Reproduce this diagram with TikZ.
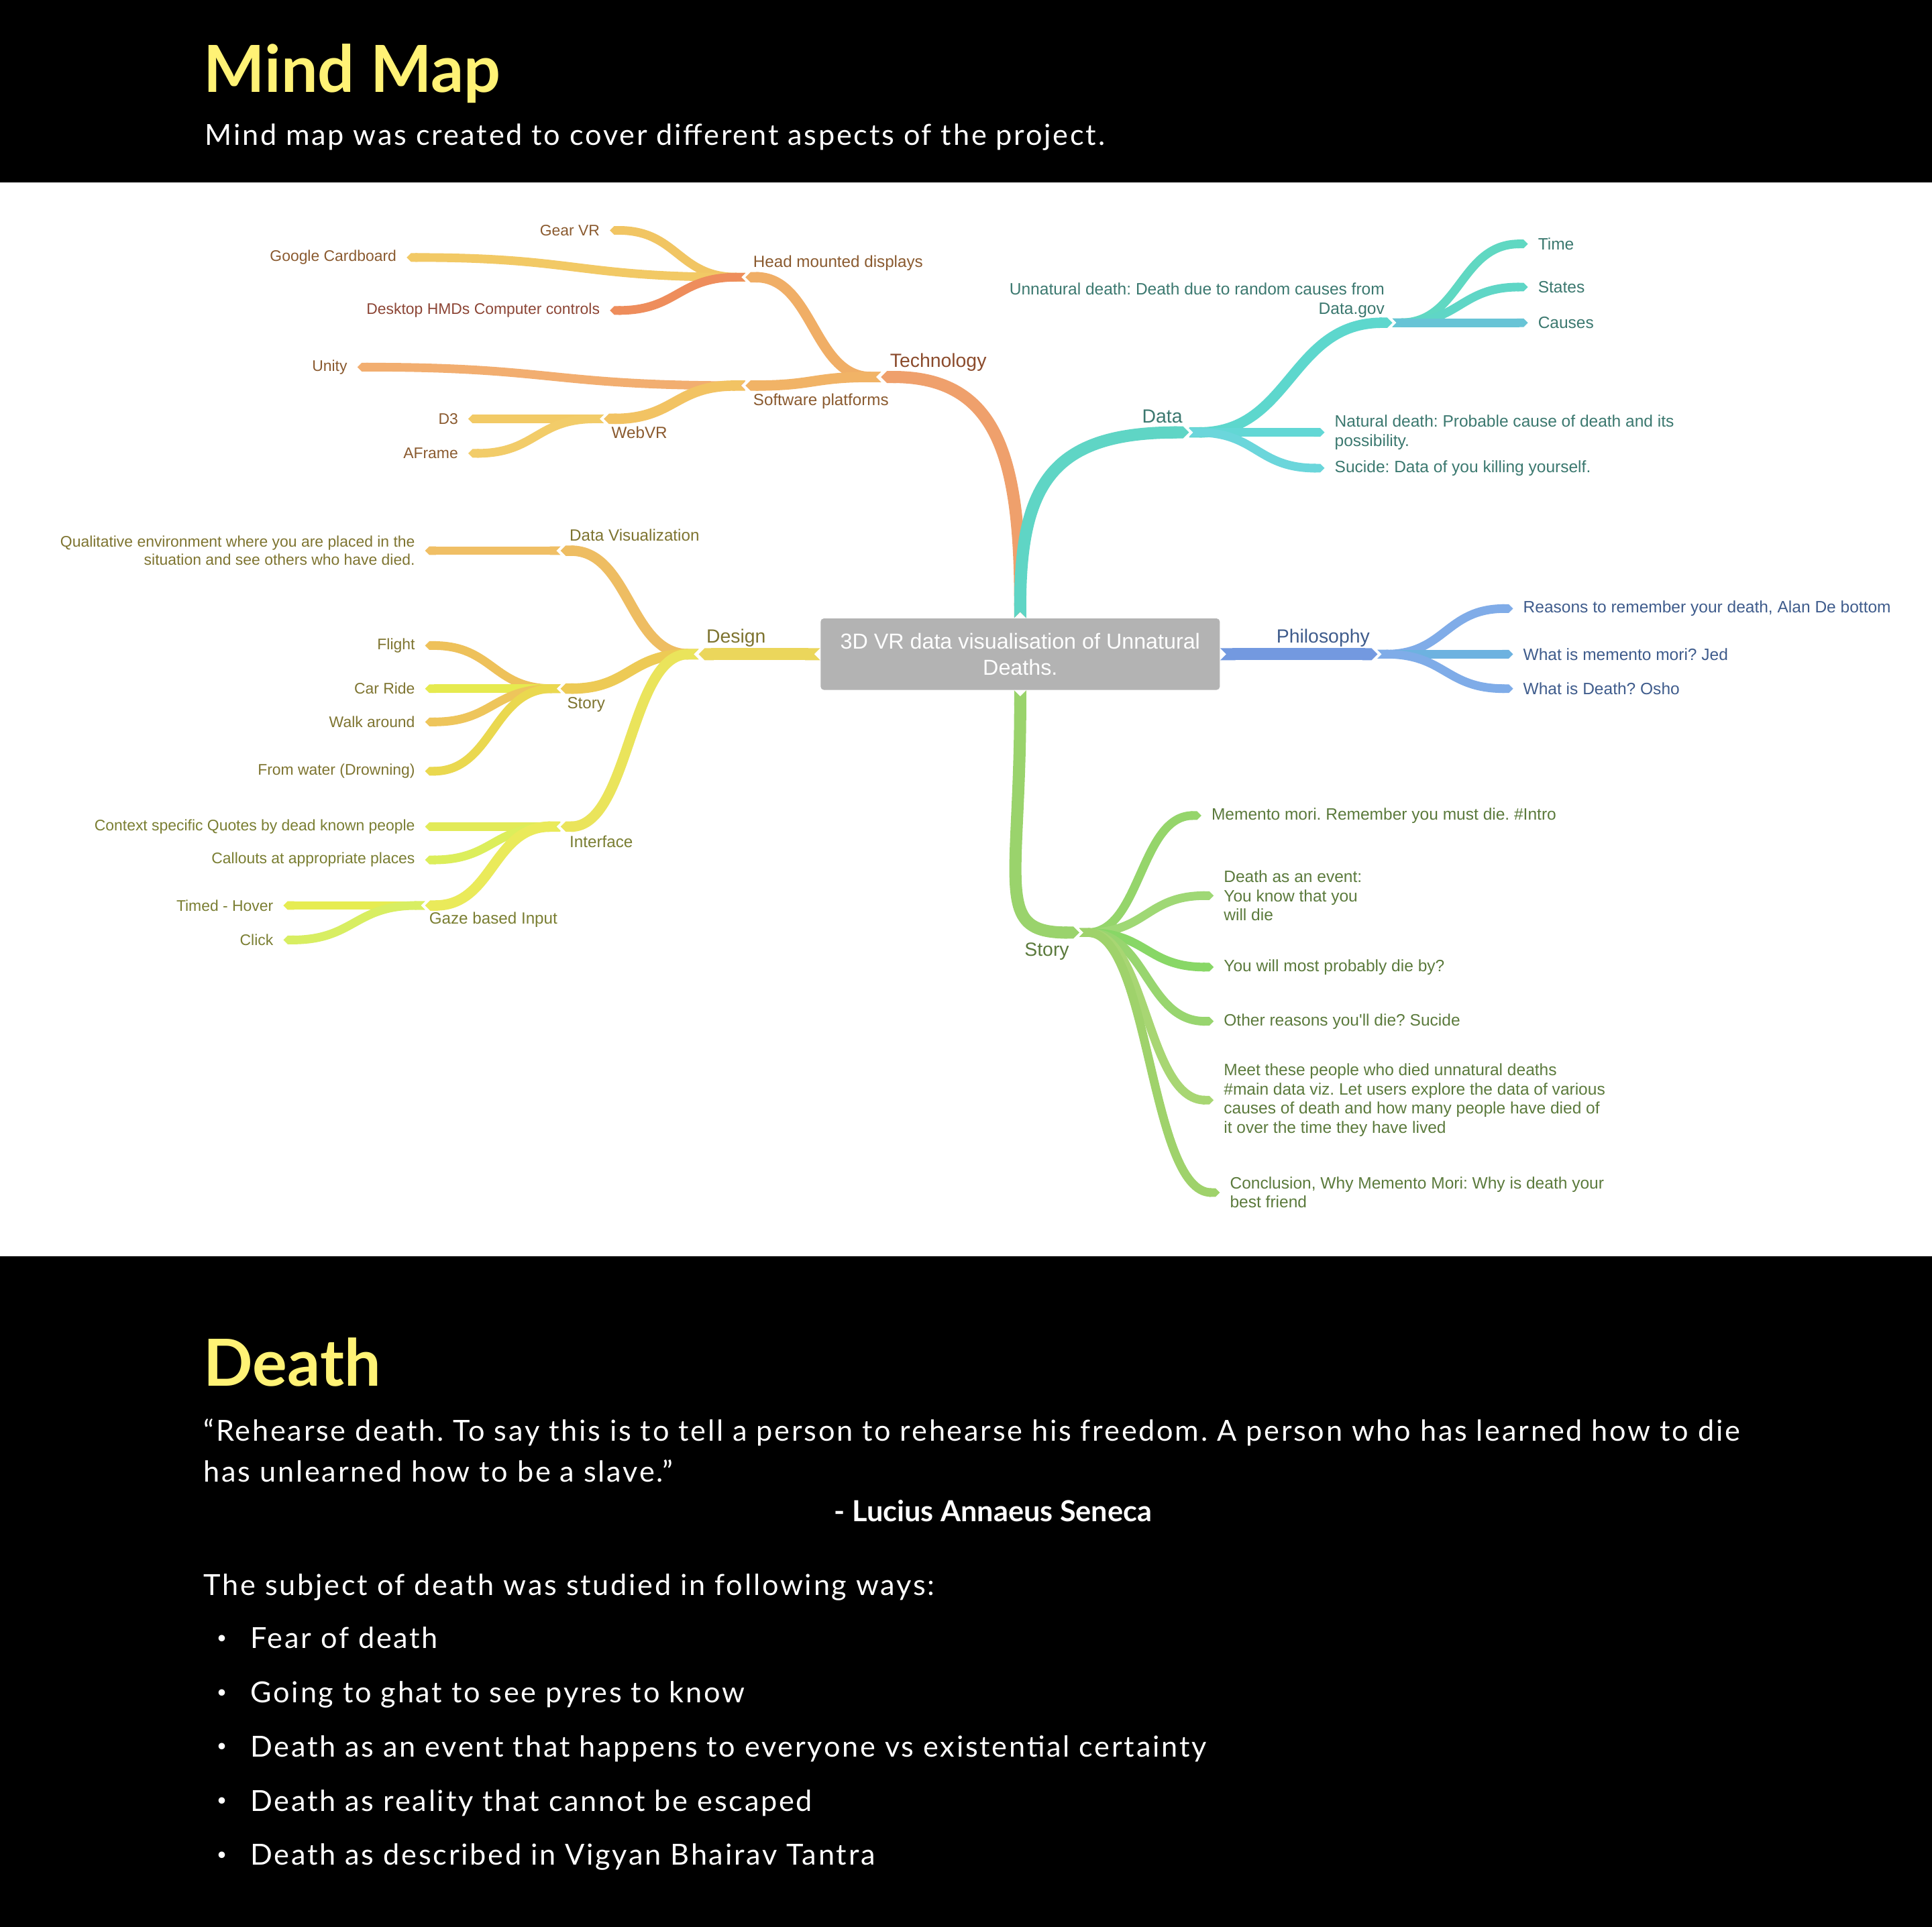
\documentclass[tikz,border=0pt]{standalone}
\usepackage{fontspec}
\setmainfont{Lato}
\newfontfamily\bodyfont[LetterSpace=6.4]{Lato}
\newfontfamily\mapfont{Liberation Sans}
\usetikzlibrary{arrows.meta,calc,positioning}

% page colours
\definecolor{titleyellow}{HTML}{FFF275}
\definecolor{rootgray}{HTML}{B3B3B3}
% technology
\definecolor{techc}{HTML}{EFA06C}
\definecolor{hmdc}{HTML}{F0AE66}
\definecolor{gearc}{HTML}{F1C563}
\definecolor{cardc}{HTML}{F2C965}
\definecolor{deskc}{HTML}{EE8D5C}
\definecolor{softc}{HTML}{F1B366}
\definecolor{unityc}{HTML}{F2AE70}
\definecolor{webc}{HTML}{F2C363}
\definecolor{dthreec}{HTML}{F2CA66}
\definecolor{aframec}{HTML}{F2CC69}
\definecolor{techtxt}{HTML}{8A5A2F}
\definecolor{techmain}{HTML}{8B4B2C}
\definecolor{desktxt}{HTML}{8C4535}
% data
\definecolor{datac}{HTML}{5FD5C5}
\definecolor{unnatc}{HTML}{5DD7CD}
\definecolor{timec}{HTML}{60D8C2}
\definecolor{statesc}{HTML}{5FD6C6}
\definecolor{causesc}{HTML}{68C4D6}
\definecolor{naturalc}{HTML}{62D7D5}
\definecolor{sucidec}{HTML}{6BD6DB}
\definecolor{datatxt}{HTML}{3B786F}
% philosophy
\definecolor{philc}{HTML}{7399E0}
\definecolor{reasonc}{HTML}{80ACE8}
\definecolor{jedc}{HTML}{6DB2E0}
\definecolor{oshoc}{HTML}{7FACE8}
\definecolor{philtxt}{HTML}{3F5C8C}
% story
\definecolor{storyc}{HTML}{9AD36C}
\definecolor{introc}{HTML}{95D56B}
\definecolor{eventc}{HTML}{9FD875}
\definecolor{probc}{HTML}{88D766}
\definecolor{otherc}{HTML}{98D56F}
\definecolor{meetc}{HTML}{A8D673}
\definecolor{conclc}{HTML}{9FD26B}
\definecolor{storytxt}{HTML}{5B7A3C}
% design
\definecolor{designc}{HTML}{EBD65B}
\definecolor{dvizc}{HTML}{EEBD62}
\definecolor{qualc}{HTML}{F0BF65}
\definecolor{dstoryc}{HTML}{EDCA55}
\definecolor{flightc}{HTML}{EEC15A}
\definecolor{carc}{HTML}{E6EA4F}
\definecolor{walkc}{HTML}{EEC55B}
\definecolor{waterc}{HTML}{EAD84F}
\definecolor{ifacec}{HTML}{EAE45B}
\definecolor{quotec}{HTML}{E2EA58}
\definecolor{calloutc}{HTML}{DCEE5B}
\definecolor{gazec}{HTML}{EAEA5A}
\definecolor{hoverc}{HTML}{E6EC52}
\definecolor{clickc}{HTML}{D8EE62}
\definecolor{designtxt}{HTML}{7E7430}
\definecolor{ifacetxt}{HTML}{7A7E32}

\tikzset{
  branch/.style={draw=#1, line width=4.8pt, {Triangle Cap[reversed]}-{Triangle Cap}},
  main branch/.style={branch=#1, line width=5.6pt},
  leaf branch/.style={branch=#1, line width=4pt},
  sbend/.style={to path={
      .. controls ($(\tikztostart)!.5!(\tikztostart-|\tikztotarget)$)
      and ($(\tikztotarget)!.5!(\tikztotarget-|\tikztostart)$)
      .. (\tikztotarget) \tikztonodes}},
  map label/.style={font=\mapfont\fontsize{7.5}{8.8}\selectfont, inner sep=0pt, align=left, text=#1},
  left leaf/.style={map label=#1, font=\mapfont\fontsize{7.1}{8.2}\selectfont},
  right leaf/.style={map label=#1, font=\mapfont\fontsize{7.6}{8.8}\selectfont},
  main label/.style={font=\mapfont\fontsize{8.8}{10}\selectfont, inner sep=0pt, text=#1},
  rootbox/.style={fill=rootgray, rounded corners=1.5pt, minimum width=6.48cm,
    minimum height=1.16cm, inner sep=0pt, text=white, align=center,
    font=\mapfont\fontsize{10}{12}\selectfont},
  page text/.style={inner sep=0pt, anchor=base west, text=white,
    font=\bodyfont\fontsize{13.4}{16}\selectfont},
  page title/.style={inner sep=0pt, anchor=base west, text=titleyellow,
    font=\bfseries\fontsize{30}{34}\selectfont},
}

\begin{document}
\frenchspacing
\begin{tikzpicture}[x=0.02cm, y=-0.02cm]

  \useasboundingbox (0,0) rectangle (1568,1564);
  \fill[black] (0,0) rectangle (1568,148);
  \fill[white] (0,148) rectangle (1568,1020);
  \fill[black] (0,1020) rectangle (1568,1564);

  % header
  \node[page title] (mm-title) at (165,75) {Mind Map};
  \node[page text] (mm-sub) at (166,118) {Mind map was created to cover different aspects of the project.};

  % centre of the map
  \node[rootbox] (root) at (828,531) {3D VR data visualisation of Unnatural\\Deaths.};

  % junctions and ends
  \coordinate (tech) at (715,306);
  \coordinate (hmd) at (605,225);
  \coordinate (soft) at (605,313);
  \coordinate (gearvr) at (495,187);
  \coordinate (cardboard) at (330,209);
  \coordinate (desktop) at (495,252);
  \coordinate (unity) at (290,298);
  \coordinate (webvr) at (490,340);
  \coordinate (dthree) at (380,340);
  \coordinate (aframe) at (380,368);

  \coordinate (data) at (965,351);
  \coordinate (unnat) at (1130,262);
  \coordinate (time) at (1240,198);
  \coordinate (states) at (1240,233);
  \coordinate (causes) at (1240,262);
  \coordinate (natural) at (1075,351);
  \coordinate (sucide) at (1075,380);

  \coordinate (philo) at (1118,531);
  \coordinate (reasons) at (1228,494);
  \coordinate (jed) at (1228,531);
  \coordinate (osho) at (1228,559);

  \coordinate (story) at (876,757);
  \coordinate (intro) at (975,662);
  \coordinate (event) at (985,727);
  \coordinate (probably) at (985,785);
  \coordinate (other) at (985,829);
  \coordinate (meet) at (985,893);
  \coordinate (concl) at (990,968);

  \coordinate (design) at (567,531);
  \coordinate (dataviz) at (455,447);
  \coordinate (qual) at (345,447);
  \coordinate (dstory) at (455,559);
  \coordinate (flight) at (345,524);
  \coordinate (car) at (345,559);
  \coordinate (walk) at (345,586);
  \coordinate (water) at (345,626);
  \coordinate (iface) at (455,671);
  \coordinate (quotes) at (345,671);
  \coordinate (callouts) at (345,698);
  \coordinate (gaze) at (345,735);
  \coordinate (hover) at (230,735);
  \coordinate (click) at (230,763);

  % technology
  \draw[main branch=techc] (root.north) .. controls +(0,-130) and +(95,0) .. (tech);
  \draw[branch=hmdc] (tech) to[sbend] (hmd);
  \draw[branch=softc] (tech) to[sbend] (soft);
  \draw[leaf branch=gearc] (hmd) to[sbend] (gearvr);
  \draw[leaf branch=cardc] (hmd) to[sbend] (cardboard);
  \draw[leaf branch=deskc] (hmd) to[sbend] (desktop);
  \draw[leaf branch=unityc] (soft) to[sbend] (unity);
  \draw[branch=webc] (soft) to[sbend] (webvr);
  \draw[leaf branch=dthreec] (webvr) to[sbend] (dthree);
  \draw[leaf branch=aframec] (webvr) to[sbend] (aframe);

  % data
  \draw[main branch=datac] (root.north) .. controls +(0,-110) and +(-110,0) .. (data);
  \draw[branch=unnatc] (data) to[sbend] (unnat);
  \draw[leaf branch=naturalc] (data) to[sbend] (natural);
  \draw[leaf branch=sucidec] (data) to[sbend] (sucide);
  \draw[leaf branch=timec] (unnat) to[sbend] (time);
  \draw[leaf branch=statesc] (unnat) to[sbend] (states);
  \draw[leaf branch=causesc] (unnat) to[sbend] (causes);

  % philosophy
  \draw[main branch=philc] (root.east) -- (philo);
  \draw[leaf branch=reasonc] (philo) to[sbend] (reasons);
  \draw[leaf branch=jedc] (philo) to[sbend] (jed);
  \draw[leaf branch=oshoc] (philo) to[sbend] (osho);

  % story
  \draw[main branch=storyc] (root.south) .. controls +(0,160) and +(-70,0) .. (story);
  \draw[leaf branch=introc] (story) to[sbend] (intro);
  \draw[leaf branch=eventc] (story) to[sbend] (event);
  \draw[leaf branch=probc] (story) to[sbend] (probably);
  \draw[leaf branch=otherc] (story) to[sbend] (other);
  \draw[leaf branch=meetc] (story) to[sbend] (meet);
  \draw[leaf branch=conclc] (story) to[sbend] (concl);

  % design
  \draw[main branch=designc] (root.west) -- (design);
  \draw[branch=dvizc] (design) to[sbend] (dataviz);
  \draw[leaf branch=qualc] (dataviz) to[sbend] (qual);
  \draw[branch=dstoryc] (design) to[sbend] (dstory);
  \draw[leaf branch=flightc] (dstory) to[sbend] (flight);
  \draw[leaf branch=carc] (dstory) to[sbend] (car);
  \draw[leaf branch=walkc] (dstory) to[sbend] (walk);
  \draw[leaf branch=waterc] (dstory) to[sbend] (water);
  \draw[branch=ifacec] (design) to[sbend] (iface);
  \draw[leaf branch=quotec] (iface) to[sbend] (quotes);
  \draw[leaf branch=calloutc] (iface) to[sbend] (callouts);
  \draw[branch=gazec] (iface) to[sbend] (gaze);
  \draw[leaf branch=hoverc] (gaze) to[sbend] (hover);
  \draw[leaf branch=clickc] (gaze) to[sbend] (click);

  % labels: technology
  \node[main label=techmain, anchor=base west] (tech-l) at ([shift={(7,-8)}]tech) {Technology};
  \node[map label=techtxt, anchor=base west] (hmd-l) at ([shift={(6,-8)}]hmd) {Head mounted displays};
  \node[map label=techtxt, anchor=base west] (soft-l) at ([shift={(6,16)}]soft) {Software platforms};
  \node[map label=techtxt, anchor=base west] (webvr-l) at ([shift={(6,16)}]webvr) {WebVR};
  \node[left leaf=techtxt, left=4.5pt of gearvr] (gearvr-l) {Gear VR};
  \node[left leaf=techtxt, left=4.5pt of cardboard] (cardboard-l) {Google Cardboard};
  \node[left leaf=desktxt, left=4.5pt of desktop] (desktop-l) {Desktop HMDs Computer controls};
  \node[left leaf=techtxt, left=4.5pt of unity] (unity-l) {Unity};
  \node[left leaf=techtxt, left=4.5pt of dthree] (dthree-l) {D3};
  \node[left leaf=techtxt, left=4.5pt of aframe] (aframe-l) {AFrame};

  % labels: data
  \node[main label=datatxt, anchor=base east] (data-l) at ([shift={(-5,-8)}]data) {Data};
  \node[right leaf=datatxt, align=right, anchor=south east] (unnat-l) at ([shift={(-6,-4)}]unnat)
    {Unnatural death: Death due to random causes from\\Data.gov};
  \node[right leaf=datatxt, right=4.5pt of time] (time-l) {Time};
  \node[right leaf=datatxt, right=4.5pt of states] (states-l) {States};
  \node[right leaf=datatxt, right=4.5pt of causes] (causes-l) {Causes};
  \node[right leaf=datatxt, right=4.5pt of natural] (natural-l)
    {Natural death: Probable cause of death and its\\possibility.};
  \node[right leaf=datatxt, right=4.5pt of sucide] (sucide-l) {Sucide: Data of you killing yourself.};

  % labels: philosophy
  \node[main label=philtxt, anchor=base east] (philo-l) at ([shift={(-6,-9)}]philo) {Philosophy};
  \node[right leaf=philtxt, right=4.5pt of reasons] (reasons-l) {Reasons to remember your death, Alan De bottom};
  \node[right leaf=philtxt, right=4.5pt of jed] (jed-l) {What is memento mori? Jed};
  \node[right leaf=philtxt, right=4.5pt of osho] (osho-l) {What is Death? Osho};

  % labels: story
  \node[main label=storytxt, anchor=base east] (story-l) at ([shift={(-8,19)}]story) {Story};
  \node[right leaf=storytxt, right=4.5pt of intro] (intro-l) {Memento mori. Remember you must die. \#Intro};
  \node[right leaf=storytxt, right=4.5pt of event] (event-l) {Death as an event:\\You know that you\\will die};
  \node[right leaf=storytxt, right=4.5pt of probably] (probably-l) {You will most probably die by?};
  \node[right leaf=storytxt, right=4.5pt of other] (other-l) {Other reasons you'll die? Sucide};
  \node[right leaf=storytxt, right=4.5pt of meet] (meet-l) {Meet these people who died unnatural deaths\\
    \#main data viz. Let users explore the data of various\\
    causes of death and how many people have died of\\it over the time they have lived};
  \node[right leaf=storytxt, right=4.5pt of concl] (concl-l) {Conclusion, Why Memento Mori: Why is death your\\best friend};

  % labels: design
  \node[main label=designtxt, anchor=base west] (design-l) at ([shift={(6,-9)}]design) {Design};
  \node[map label=designtxt, anchor=base west] (dataviz-l) at ([shift={(7,-8)}]dataviz) {Data Visualization};
  \node[left leaf=designtxt, align=right, left=4.5pt of qual] (qual-l)
    {Qualitative environment where you are placed in the\\situation and see others who have died.};
  \node[map label=designtxt, anchor=base west] (dstory-l) at ([shift={(5,16)}]dstory) {Story};
  \node[left leaf=designtxt, left=4.5pt of flight] (flight-l) {Flight};
  \node[left leaf=designtxt, left=4.5pt of car] (car-l) {Car Ride};
  \node[left leaf=designtxt, left=4.5pt of walk] (walk-l) {Walk around};
  \node[left leaf=designtxt, left=4.5pt of water] (water-l) {From water (Drowning)};
  \node[map label=ifacetxt, anchor=base west] (iface-l) at ([shift={(7,17)}]iface) {Interface};
  \node[left leaf=ifacetxt, left=4.5pt of quotes] (quotes-l) {Context specific Quotes by dead known people};
  \node[left leaf=ifacetxt, left=4.5pt of callouts] (callouts-l) {Callouts at appropriate places};
  \node[map label=ifacetxt, anchor=base west] (gaze-l) at ([shift={(3,15)}]gaze) {Gaze based Input};
  \node[left leaf=ifacetxt, left=4.5pt of hover] (hover-l) {Timed - Hover};
  \node[left leaf=ifacetxt, left=4.5pt of click] (click-l) {Click};

  % death section
  \node[page title] (death-title) at (165,1125) {Death};
  \node[page text] (quote-a) at (165,1170)
    {“Rehearse death. To say this is to tell a person to rehearse his freedom. A person who has learned how to die};
  \node[page text] (quote-b) at (165,1203) {has unlearned how to be a slave.”};
  \node[page text, anchor=base, font=\bfseries\fontsize{13.4}{16}\selectfont] (seneca) at (806,1235)
    {- Lucius Annaeus Seneca};
  \node[page text] (ways) at (165,1295) {The subject of death was studied in following ways:};
  \foreach \txt [count=\i] in {Fear of death, Going to ghat to see pyres to know,
      Death as an event that happens to everyone vs existential certainty,
      Death as reality that cannot be escaped, Death as described in Vigyan Bhairav Tantra} {
    \node[page text, anchor=base, font=\fontsize{8}{10}\selectfont] (dot\i) at (180,{1334+44*(\i-1)}) {\textbullet};
    \node[page text] (way\i) at (203,{1338+44*(\i-1)}) {\txt};
  }

\end{tikzpicture}
\end{document}
